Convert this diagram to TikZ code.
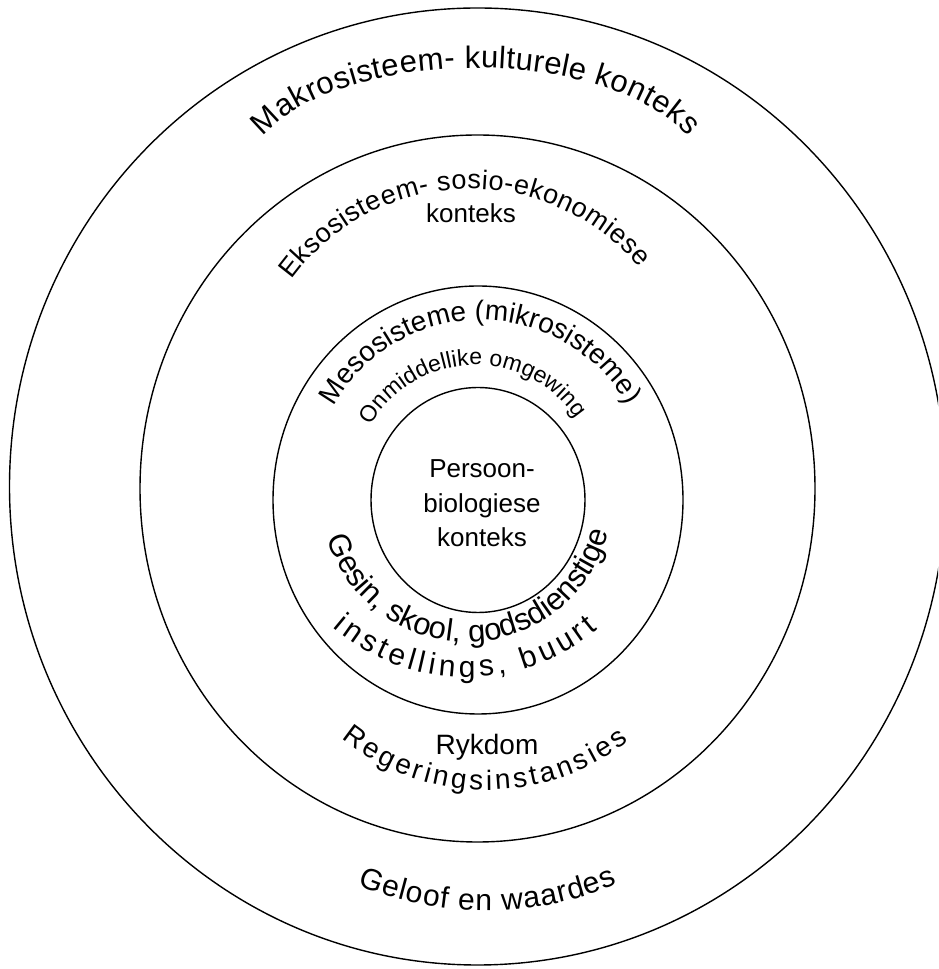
\documentclass[tikz,border=0pt]{standalone}
\usepackage{fontspec}
\setmainfont{Liberation Sans}
\usetikzlibrary{decorations.text}
\newcommand{\fsz}[1]{\fontsize{#1}{#1}\selectfont}
\tikzset{
  ring/.style={draw=black, line width=1.4pt},
  arctext/.style={decorate, decoration={text along path, text align={fit to path}, text={#1}}},
  plain/.style={font=\fsz{26}, align=center, inner sep=0pt}
}
\begin{document}
\begin{tikzpicture}[x=1pt, y=1pt]
\useasboundingbox (0,0) rectangle (938,969);
\clip (0,0) rectangle (938,969);
\fill[white] (0,0) rectangle (938,969);
% rings
\draw[ring] (477.5,482.5) ellipse [x radius=468, y radius=478.5];
\draw[ring] (477.5,480.5) ellipse [x radius=337.5, y radius=353.5];
\draw[ring] (478,469) ellipse [x radius=205, y radius=214];
\draw[ring] (478,469) ellipse [x radius=107, y radius=112.5];
% arched texts
\path[arctext={|\fsz{31}|Makrosisteem- kulturele konteks}]
  (475.5,791) ++(158:229 and 110) arc[start angle=158, end angle=22, x radius=229, y radius=110];
\path[arctext={|\fsz{27}|Eksosisteem- sosio-ekonomiese}]
  (470,559) ++(144:221) arc[start angle=144, end angle=40, radius=221];
\path[arctext={|\fsz{28}|Mesosisteme (mikrosisteme)}]
  (481,481) ++(151:168) arc[start angle=151, end angle=29.5, radius=168];
\path[arctext={|\fsz{23}|Onmiddellike omgewing}]
  (475.5,483) ++(150:121) arc[start angle=150, end angle=34, radius=121];
\path[arctext={|\fsz{31}|Gesin, skool, godsdienstige}]
  (467,473) ++(197:146) arc[start angle=197, end angle=343, radius=146];
\path[arctext={|\fsz{30}|instellings, buurt}]
  (466,497) ++(229.5:205) arc[start angle=229.5, end angle=310, radius=205];
\path[arctext={|\fsz{28}|Regeringsinstansies}]
  (486.5,410) ++(231:231) arc[start angle=231, end angle=308, radius=231];
\path[arctext={|\fsz{30}|Geloof en waardes}]
  (486,386) ++(247:328) arc[start angle=247, end angle=293.6, radius=328];
% straight texts
\node[plain, anchor=base] (ekskonteks) at (471,746) {konteks};
\node[plain, anchor=base] (persoon1) at (482,491) {Persoon-};
\node[plain, anchor=base] (persoon2) at (482,456.5) {biologiese};
\node[plain, anchor=base] (persoon3) at (482,422) {konteks};
\node[plain, font=\fsz{28}, anchor=base] (rykdom) at (487,214) {Rykdom};
\end{tikzpicture}
\end{document}
